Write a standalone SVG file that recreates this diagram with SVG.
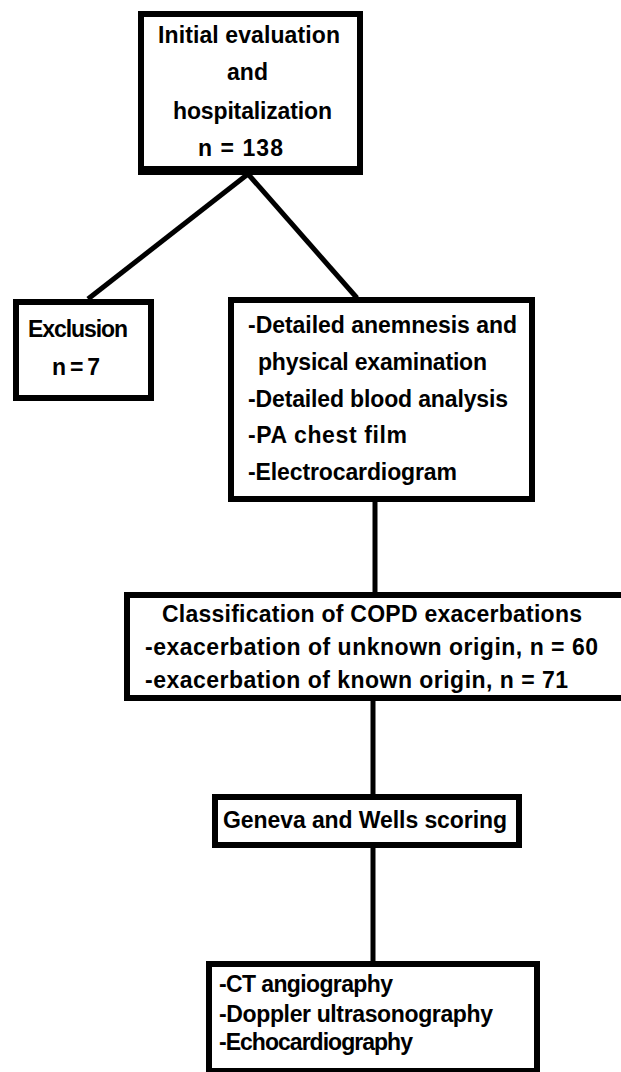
<svg xmlns="http://www.w3.org/2000/svg" width="621" height="1072" viewBox="0 0 621 1072">
<style>
.box{fill:#fff;stroke:#000;stroke-width:6}
.t{font-family:"Liberation Sans",Arial,sans-serif;font-weight:bold;font-size:23px;fill:#000}
.c{stroke:#000;stroke-width:5;fill:none}
</style>
<rect width="621" height="1072" fill="#fff"/>
<g id="connectors">
<line class="c" x1="248" y1="174" x2="88" y2="299"/>
<line class="c" x1="248" y1="174" x2="357" y2="298"/>
<line class="c" x1="375" y1="500" x2="375" y2="595"/>
<line class="c" x1="373" y1="698" x2="373" y2="797"/>
<line class="c" x1="373" y1="846" x2="373" y2="964"/>
</g>
<g id="initial">
<rect class="box" x="141" y="14" width="219" height="155"/>
<line x1="138" y1="172" x2="363" y2="172" stroke="#000" stroke-width="6"/>
<text class="t" x="158" y="43" textLength="182" lengthAdjust="spacing">Initial evaluation</text>
<text class="t" x="227" y="80" textLength="41" lengthAdjust="spacing">and</text>
<text class="t" x="173" y="119" textLength="159" lengthAdjust="spacing">hospitalization</text>
<text class="t" x="198" y="156" textLength="85" lengthAdjust="spacing">n = 138</text>
</g>
<g id="exclusion">
<rect class="box" x="16" y="302" width="135" height="96"/>
<text class="t" x="28" y="337" textLength="100" lengthAdjust="spacing">Exclusion</text>
<text class="t" x="52" y="375" textLength="48" lengthAdjust="spacing">n = 7</text>
</g>
<g id="detail">
<rect class="box" x="231" y="300" width="301" height="199"/>
<text class="t" x="248" y="333" textLength="269" lengthAdjust="spacing">-Detailed anemnesis and</text>
<text class="t" x="258" y="370" textLength="229" lengthAdjust="spacing">physical examination</text>
<text class="t" x="248" y="407" textLength="260" lengthAdjust="spacing">-Detailed blood analysis</text>
<text class="t" x="248" y="443" textLength="159" lengthAdjust="spacing">-PA chest film</text>
<text class="t" x="248" y="480" textLength="209" lengthAdjust="spacing">-Electrocardiogram</text>
</g>
<g id="classification">
<rect class="box" x="127" y="595" width="520" height="103"/>
<text class="t" x="162" y="622" textLength="420" lengthAdjust="spacing">Classification of COPD exacerbations</text>
<text class="t" x="145" y="655" textLength="453" lengthAdjust="spacing">-exacerbation of unknown origin, n = 60</text>
<text class="t" x="145" y="688" textLength="423" lengthAdjust="spacing">-exacerbation of known origin, n = 71</text>
</g>
<g id="scoring">
<rect class="box" x="215" y="797" width="304" height="48"/>
<text class="t" x="223" y="828" textLength="284" lengthAdjust="spacing">Geneva and Wells scoring</text>
</g>
<g id="imaging">
<rect class="box" x="209" y="964" width="328" height="107"/>
<text class="t" x="219" y="992" textLength="174" lengthAdjust="spacing">-CT angiography</text>
<text class="t" x="219" y="1022" textLength="274" lengthAdjust="spacing">-Doppler ultrasonography</text>
<text class="t" x="219" y="1050" textLength="194" lengthAdjust="spacing">-Echocardiography</text>
</g>
</svg>
